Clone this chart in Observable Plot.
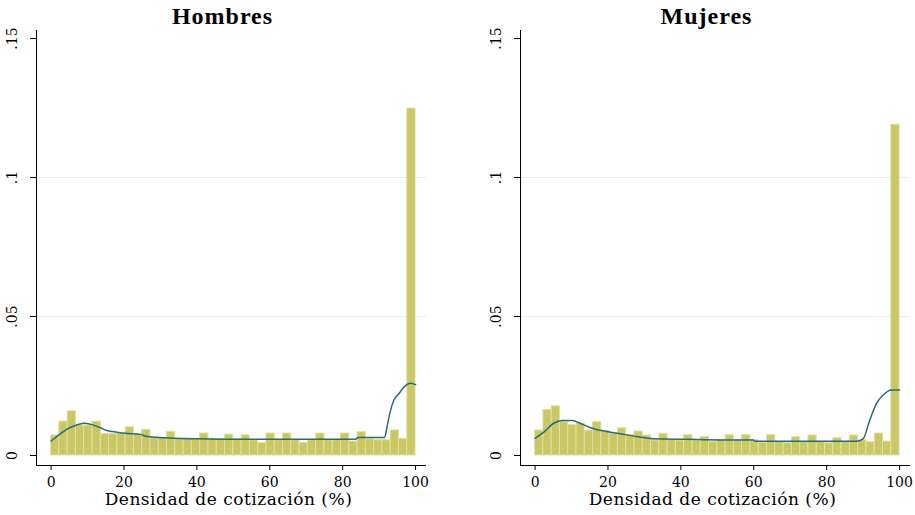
<!DOCTYPE html>
<html><head><meta charset="utf-8">
<script src="https://cdn.jsdelivr.net/npm/d3@7"></script>
<script src="https://cdn.jsdelivr.net/npm/@observablehq/plot@0.6"></script>
<style>
html,body{margin:0;padding:0;background:#fff;overflow:hidden}
#wrap{position:relative;width:915px;height:515px;background:#fff}
#wrap>svg{position:absolute;top:0}
g[font-size="24"] text{letter-spacing:1px}
g[font-size="17"] text{letter-spacing:0.5px}
</style></head><body><div id="wrap"></div>
<script>
const panelTitles = ["Hombres", "Mujeres"];
const xLabel = "Densidad de cotización (%)";
const xTicks = [0, 20, 40, 60, 80, 100];
const yTicks = [0, 0.05, 0.1, 0.15];
const yTickLabels = ["0", ".05", ".1", ".15"];
const gridValues = [0.05, 0.1];

// histogram densities (44 bins over 0–100)
const hombresDensity = [0.0072, 0.0122, 0.0159, 0.0108, 0.0108, 0.0122, 0.0077, 0.0077, 0.0077, 0.0102,
  0.0077, 0.0092, 0.0063, 0.0063, 0.0085, 0.006, 0.006, 0.006, 0.0079, 0.006,
  0.0058, 0.0075, 0.0058, 0.0073, 0.0055, 0.0045, 0.0079, 0.0055, 0.0079, 0.0055,
  0.0045, 0.0055, 0.0079, 0.0055, 0.0055, 0.0079, 0.005, 0.0084, 0.0058, 0.0055,
  0.0055, 0.009, 0.006, 0.1248];
const mujeresDensity = [0.009, 0.0164, 0.0177, 0.012, 0.011, 0.0115, 0.009, 0.012, 0.0088, 0.0077,
  0.0098, 0.0074, 0.0086, 0.0072, 0.0054, 0.0078, 0.0056, 0.0054, 0.0073, 0.0054,
  0.0067, 0.0049, 0.0055, 0.0073, 0.0055, 0.0073, 0.0055, 0.0046, 0.0073, 0.0048,
  0.0044, 0.0066, 0.0048, 0.0072, 0.0048, 0.0044, 0.0062, 0.0048, 0.0072, 0.0055,
  0.0048, 0.0079, 0.005, 0.119];

// kernel density curves
const hombresKdeX = [0, 2.5, 4.5, 6.7, 8.9, 11.2, 13.5, 15.3, 18.1, 20.4, 24.5, 26.4, 33.7, 40, 52, 70, 83.5, 84.2, 91.5, 92.2, 92.9, 94, 95.4, 96.8, 98.6, 100];
const hombresKdeY = [0.0052, 0.0078, 0.0096, 0.0108, 0.0116, 0.0111, 0.0100, 0.0090, 0.0084, 0.0080, 0.0076, 0.0068, 0.0062, 0.0060, 0.0058, 0.0058, 0.0058, 0.0065, 0.0065, 0.0105, 0.0150, 0.0198, 0.0222, 0.0246, 0.0260, 0.0255];
const mujeresKdeX = [0, 2.4, 5.1, 7.4, 10.1, 12, 15.2, 19.7, 23.4, 27.9, 32.5, 41.6, 50.7, 59.9, 60.4, 88.1, 90, 91.8, 93.6, 95.4, 97.7, 100];
const mujeresKdeY = [0.0062, 0.0084, 0.0116, 0.0126, 0.0126, 0.0118, 0.0100, 0.0086, 0.0078, 0.0068, 0.0060, 0.0058, 0.0056, 0.0056, 0.0051, 0.0051, 0.0060, 0.0126, 0.0186, 0.0216, 0.0236, 0.0236];

const fillColor = "#c9c865", edgeColor = "#e0dfa6", kdeColor = "#2b6b74", gridColor = "#e6eef0";
const xDom = [-4, 103], yDom = [-0.0036, 0.1529];

function panel(title, dens, kx, ky, width, marginRight) {
  const bw = 100 / dens.length;
  const bins = dens.map((d, i) => ({x1: i * bw, x2: (i + 1) * bw, d}));
  const kde = kx.map((x, i) => ({x, y: ky[i]}));
  return Plot.plot({
    width, height: 515,
    marginLeft: 36, marginRight, marginTop: 30, marginBottom: 50,
    x: {domain: xDom}, y: {domain: yDom},
    style: {background: "white", fontFamily: "DejaVu Serif", color: "black"},
    marks: [
      Plot.ruleY(gridValues, {stroke: gridColor, strokeWidth: 1}),
      Plot.rectY(bins, {x1: "x1", x2: "x2", y1: 0, y2: "d", fill: fillColor, stroke: edgeColor, strokeWidth: 1}),
      Plot.line(kde, {x: "x", y: "y", stroke: kdeColor, strokeWidth: 1.5, curve: "monotone-x"}),
      Plot.ruleX([xDom[0]], {stroke: "black", strokeWidth: 1}),
      Plot.ruleY([yDom[0]], {stroke: "black", strokeWidth: 1}),
      Plot.axisX(xTicks, {tickSize: 5, tickPadding: 7, fontSize: 14, label: null, stroke: "black"}),
      Plot.axisY(yTicks, {tickSize: 6, tickFormat: () => "", label: null, stroke: "black"}),
      Plot.text(yTicks, {y: d => d, text: (d, i) => yTickLabels[i], frameAnchor: "left", dx: -23.5, rotate: -90,
        textAnchor: "middle", lineAnchor: "middle", fontSize: 14, fill: "black"}),
      Plot.text([title], {frameAnchor: "top", dx: -9, dy: -14, lineAnchor: "middle", fontSize: 24,
        fontWeight: "bold", fontFamily: "Liberation Serif", fill: "black"}),
      Plot.text([xLabel], {frameAnchor: "bottom", dx: -3, dy: 34, lineAnchor: "middle", fontSize: 17, fill: "black"})
    ]
  });
}

const wrap = document.getElementById("wrap");
const left = panel(panelTitles[0], hombresDensity, hombresKdeX, hombresKdeY, 484, 58);
left.style.left = "0px";
const right = panel(panelTitles[1], mujeresDensity, mujeresKdeX, mujeresKdeY, 431, 5);
right.style.left = "484px";
wrap.appendChild(left);
wrap.appendChild(right);
</script>
</body></html>
